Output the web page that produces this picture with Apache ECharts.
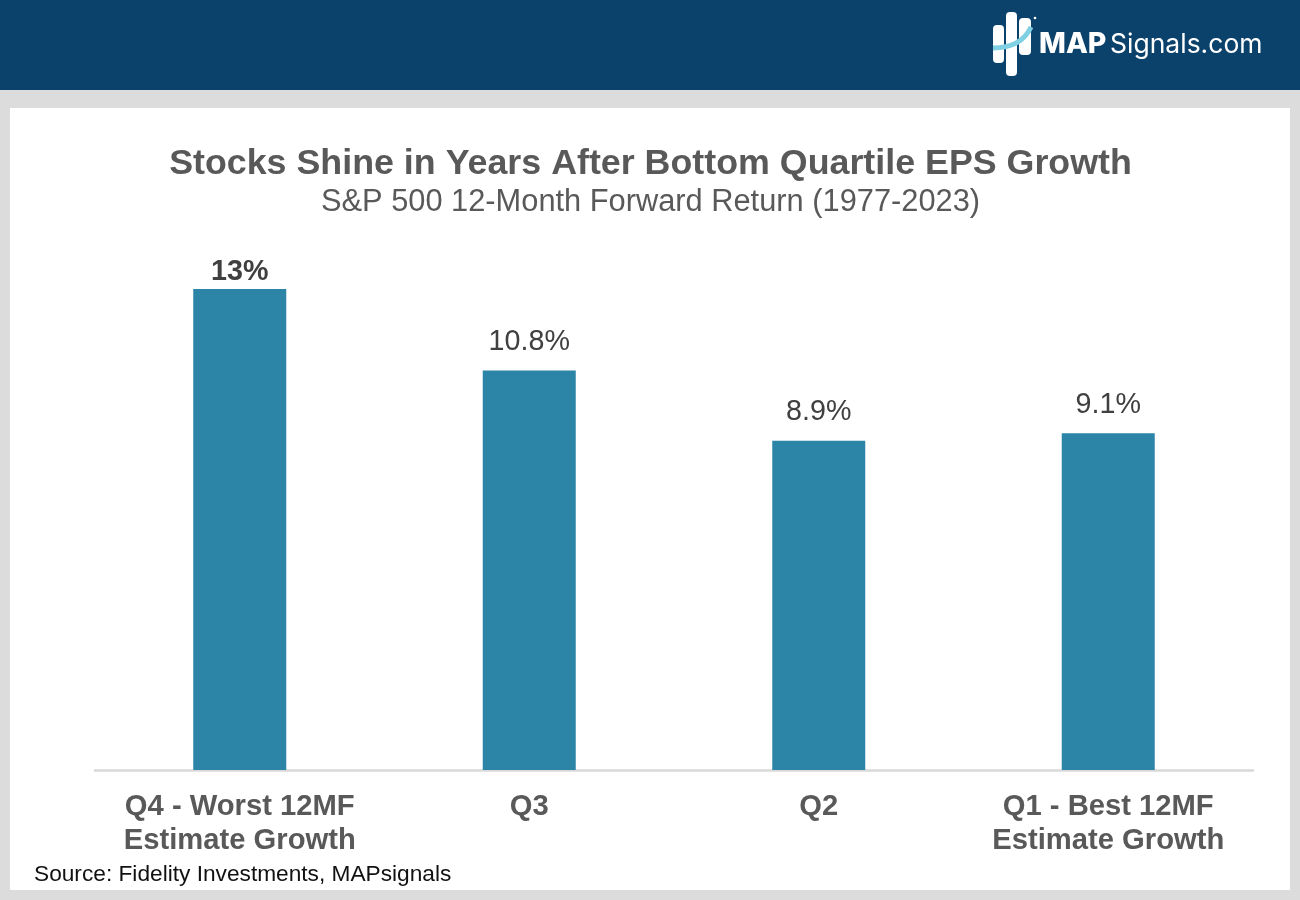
<!DOCTYPE html>
<html>
<head>
<meta charset="utf-8">
<title>Stocks Shine in Years After Bottom Quartile EPS Growth</title>
<script src="https://cdn.jsdelivr.net/npm/echarts@6/dist/echarts.min.js"></script>
<style>
  html, body { margin: 0; padding: 0; background: #dcdcdc; }
  #chart { width: 1300px; height: 900px; }
</style>
</head>
<body>
<div id="chart"></div>
<script>
const categories = ['Q4 - Worst 12MF\nEstimate Growth', 'Q3', 'Q2', 'Q1 - Best 12MF\nEstimate Growth']
const returns = [13, 10.8, 8.9, 9.1]
const boldBars = [true, false, false, false]

const FONT = '"Liberation Sans", Arial, sans-serif'
const BAR = '#2c84a6'

const chart = echarts.init(document.getElementById('chart'), null, { renderer: 'canvas' })

// logo bars, white on the navy header
function logoBar(x, y, w, h) {
  return { type: 'rect', z: 3, shape: { x, y, width: w, height: h, r: 4 }, style: { fill: '#fff' } }
}

chart.setOption({
  animation: false,
  backgroundColor: '#dcdcdc',
  textStyle: { fontFamily: FONT },
  graphic: [
    { type: 'rect', z: 0, shape: { x: 0, y: 0, width: 1300, height: 90 }, style: { fill: '#0b426c' } },
    { type: 'rect', z: 0, shape: { x: 10, y: 108, width: 1280, height: 782 }, style: { fill: '#fff' } },
    logoBar(993, 25, 11, 38),
    logoBar(1006, 12, 11, 64),
    logoBar(1019, 18, 12, 37),
    {
      type: 'bezierCurve', z: 4,
      shape: { x1: 993, y1: 48, cpx1: 1010, cpy1: 48, cpx2: 1024, cpy2: 42, x2: 1031, y2: 27 },
      style: { stroke: '#7fd0e2', lineWidth: 5, fill: 'none' }
    },
    { type: 'circle', z: 3, shape: { cx: 1035, cy: 18, r: 1.3 }, style: { fill: '#fff' } },
    {
      type: 'text', z: 3, x: 1039, y: 44,
      style: {
        text: 'MAP', fill: '#fff', font: '800 28.5px Inter, sans-serif',
        verticalAlign: 'middle'
      }
    },
    {
      type: 'text', z: 3, x: 1110, y: 45,
      style: {
        text: 'Signals.com', fill: '#fff', font: '400 26.5px Inter, sans-serif',
        verticalAlign: 'middle'
      }
    },
    {
      type: 'text', z: 3, x: 34, y: 875,
      style: {
        text: 'Source: Fidelity Investments, MAPsignals', fill: '#111',
        font: '22.7px ' + FONT, verticalAlign: 'middle'
      }
    }
  ],
  title: [
    {
      text: 'Stocks Shine in Years After Bottom Quartile EPS Growth',
      left: 645.5, top: 141, textAlign: 'center',
      textStyle: { fontFamily: FONT, fontSize: 35.8, fontWeight: 'bold', color: '#595959' }
    },
    {
      text: 'S&P 500 12-Month Forward Return (1977-2023)',
      left: 645.5, top: 182, textAlign: 'center',
      textStyle: { fontFamily: FONT, fontSize: 30.8, fontWeight: 'normal', color: '#595959' }
    }
  ],
  grid: { left: 95, right: 47, top: 252, height: 518 },
  xAxis: {
    type: 'category',
    data: categories,
    axisTick: { show: false },
    axisLine: { lineStyle: { color: '#d9d9d9', width: 2.5 } },
    axisLabel: {
      interval: 0,
      margin: 20,
      fontFamily: FONT,
      fontSize: 29.2,
      fontWeight: 'bold',
      lineHeight: 34,
      color: '#595959'
    }
  },
  yAxis: { type: 'value', min: 0, max: 14, show: false },
  series: [{
    type: 'bar',
    barWidth: 93,
    itemStyle: { color: BAR },
    label: {
      show: true,
      position: 'top',
      fontFamily: FONT,
      fontSize: 28.7,
      color: '#404040'
    },
    data: returns.map((v, i) => ({
      value: v,
      label: {
        fontWeight: boldBars[i] ? 'bold' : 'normal',
        distance: boldBars[i] ? 2 : 14,
        formatter: v + '%'
      }
    }))
  }]
})
</script>
</body>
</html>
